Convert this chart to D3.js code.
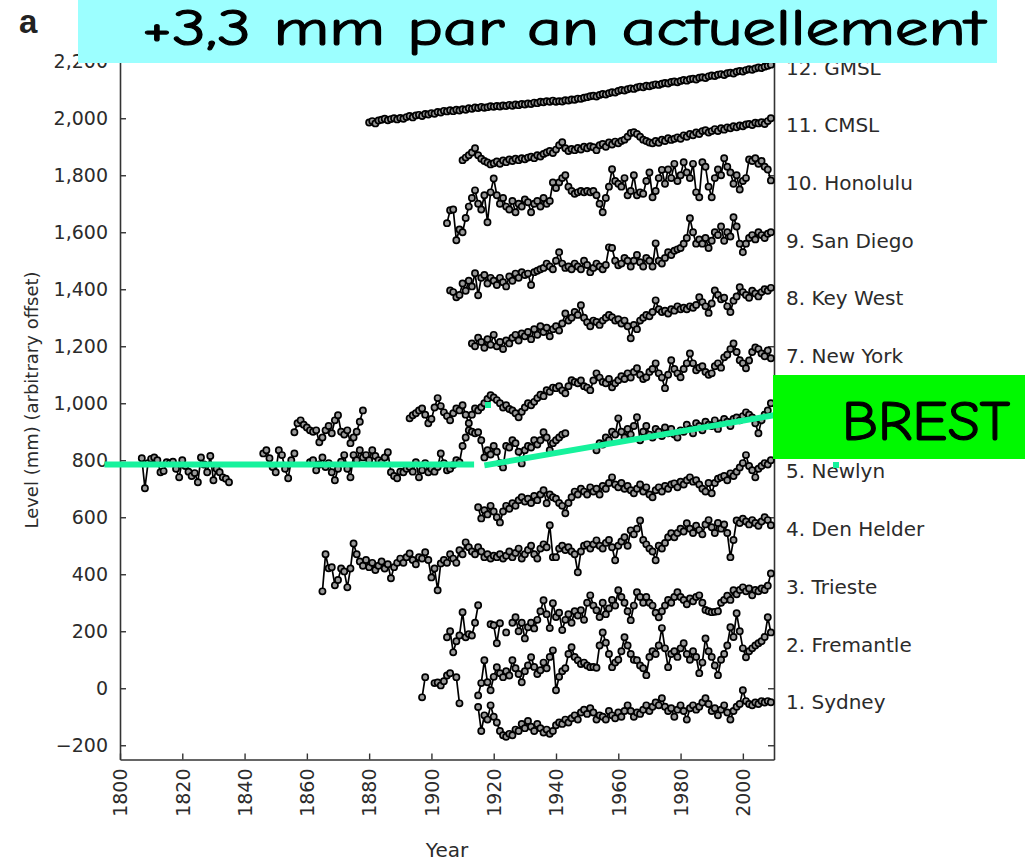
<!DOCTYPE html>
<html>
<head>
<meta charset="utf-8">
<script src="https://cdn.jsdelivr.net/npm/d3@7"></script>
<style>
  html, body { margin: 0; padding: 0; background: #fff; }
  svg { display: block; }
</style>
</head>
<body>
<div id="chart"></div>
<script>
// tide gauge records, mm (arbitrary offset), one value per year, null = gap
const sydney = [
  -66,-150,-95,-110,-60,-100,-120,-150,-165,-170,
  -160,-165,-145,-150,-125,-140,-115,-135,-150,-125,
  -140,-155,-145,-160,-150,-130,-120,-125,-110,-120,
  -105,-95,-110,-85,-75,-90,-70,-85,-110,-95,
  -100,-110,-80,-95,-105,-85,-100,-80,-60,-80,
  -100,-85,-90,-75,-60,-80,-65,-50,-60,-35,
  -65,-80,-70,-100,-75,-60,-80,-110,-70,-60,
  -75,-65,-50,-35,-55,-80,-70,-95,-75,-60,
  -85,-110,-80,-65,-55,-7,-45,-55,-60,-50,
  -55,-45,-50,-45,-49
];
const fremantle = [
  -32,39,null,null,18,20,10,25,45,53,
  null,39,-53,null,null,null,null,null,-25,18,
  98,21,-7,40,74,53,39,60,45,98,
  70,50,21,60,80,109,75,50,63,90,
  70,110,133,-7,40,60,70,120,144,110,
  98,85,90,80,74,75,72,150,196,160,
  120,74,90,100,130,179,150,120,100,98,
  80,70,46,110,130,120,150,211,140,74,
  120,130,110,140,158,120,100,130,110,53,
  90,175,130,110,80,46,100,120,150,214,
  180,263,200,140,109,130,140,150,158,165,
  180,249,196
];
const trieste = [
  179,200,126,165,185,267,179,190,185,230,
  291,null,null,null,225,221,158,228,null,196,
  null,230,249,200,230,175,214,230,210,240,
  270,309,260,211,298,250,265,204,240,260,
  230,270,255,274,240,300,326,290,274,250,
  300,260,280,310,290,344,320,300,270,239,
  290,337,320,300,320,300,290,265,249,270,
  290,310,300,320,337,320,310,295,315,305,
  320,326,300,275,270,267,268,270,300,310,
  325,310,344,330,345,354,340,350,326,345,
  340,350,345,360,403
];
const denHelder = [
  340,470,421,425,361,380,420,410,354,420,
  508,470,445,430,450,425,440,415,430,445,
  420,435,386,425,440,455,440,460,473,450,
  435,460,455,477,450,389,420,344,438,450,
  440,470,455,440,484,470,512,495,480,470,
  495,480,460,470,455,465,460,470,455,465,
  480,460,475,490,455,470,485,500,470,455,
  490,505,495,572,460,460,490,500,485,495,
  480,470,407,480,500,505,490,505,519,500,
  490,510,520,495,449,500,515,530,500,554,
  540,560,589,520,505,490,480,449,500,490,
  510,530,544,530,545,560,550,579,560,545,
  570,555,540,575,590,565,545,580,560,575,
  545,460,520,589,580,595,585,575,590,580,
  570,585,600,590,572
];
const newlyn = [
  635,596,625,610,640,620,600,582,620,640,
  630,649,640,660,670,655,665,650,675,660,
  680,695,649,680,670,665,650,640,614,650,
  670,690,680,700,690,680,705,690,700,680,
  710,700,720,740,715,705,720,700,710,695,
  684,700,715,690,705,680,670,695,705,690,
  710,700,715,719,705,725,715,730,740,725,
  730,715,700,690,720,684,720,735,740,745,
  730,754,745,760,775,790,818,780,765,740,
  770,780,790,785,800
];
const brest = [
  807,702,790,805,810,800,758,762,793,790,
  795,770,740,800,780,760,745,755,723,810,
  785,758,815,730,770,758,740,735,723,null,
  null,null,null,null,null,null,null,null,null,824,
  835,807,776,758,835,818,770,737,800,824,
  null,null,null,null,793,800,765,785,810,776,
  790,758,730,770,795,818,770,740,818,800,
  835,810,818,800,835,815,800,793,810,828,
  758,745,737,760,758,770,776,760,793,740,
  765,790,758,770,760,776,824,790,765,770,
  783,800,793,850,880,905,900,895,898,870,
  810,835,820,850,830,790,775,850,845,870,
  860,830,789,835,850,845,870,855,870,898,
  880,835,860,870,880,890,895,null,null,null,
  null,null,null,null,null,null,835,860,855,880,
  870,900,890,947,900,880,910,890,920,951,
  870,900,920,890,880,910,900,885,915,895,
  910,890,880,905,900,925,910,895,930,920,
  905,935,925,920,940,910,930,945,935,920,
  945,950,940,955,968,960,950,930,895,940,
  960,975,1000
];
const newYork = [
  898,930,940,925,915,905,900,905,863,880,
  905,920,895,940,958,900,890,905,860,880,
  900,935,975,null,null,null,null,null,null,null,
  null,null,null,null,null,null,null,947,958,965,
  975,982,960,930,945,985,1018,990,968,955,
  940,965,982,975,993,960,930,960,982,975,
  986,1000,1015,1028,1020,1011,1000,985,993,980,
  975,965,951,970,985,1000,993,1005,1018,1030,
  1025,1046,1040,1055,1053,1060,1045,1035,1060,1081,
  1075,1070,1080,1060,1055,1046,1080,1105,1090,1075,
  1070,1085,1056,1070,1081,1095,1085,1105,1090,1110,
  1123,1100,1085,1091,1110,1120,1140,1105,1090,1053,
  1100,1151,1120,1105,1091,1120,1140,1175,1140,1116,
  1125,1130,1110,1100,1105,1130,1140,1125,1161,1170,
  1190,1210,1180,1151,1140,1123,1150,1180,1196,1190,
  1175,1165,1185,1158
];
const keyWest = [
  1210,1200,1230,1215,1195,1225,1205,1240,1200,1215,
  1190,1220,1210,1230,1240,1220,1245,1235,1250,1225,
  1260,1240,1270,1250,1265,1235,1260,1270,1255,1280,
  1315,1290,1300,1320,1310,1344,1300,1284,1270,1290,
  1285,1275,1290,1300,1310,1302,1290,1295,1280,1290,
  1270,1228,1275,1260,1290,1300,1310,1305,1320,1361,
  1330,1320,1325,1315,1330,1325,1340,1330,1335,1330,
  1340,1335,1345,1372,1355,1340,1317,1350,1396,1380,
  1365,1370,1340,1320,1360,1375,1407,1390,1380,1370,
  1395,1385,1375,1390,1400,1395,1405
];
const sanDiego = [
  1396,1390,1372,1380,1420,1395,1430,1410,1456,1379,
  1440,1450,1420,1440,1430,1415,1440,1425,1410,1445,
  1430,1455,1440,1460,1450,1455,1415,1460,1465,1470,
  1475,1490,1480,1470,1500,1530,1490,1475,1480,1470,
  1490,1480,1470,1500,1485,1460,1475,1490,1480,1470,
  1485,1547,1545,1500,1484,1490,1510,1500,1480,1500,
  1520,1495,1480,1510,1500,1480,1561,1500,1490,1510,
  1530,1520,1535,1540,1545,1560,1580,1649,1600,1560,
  1575,1560,1580,1545,1570,1600,1590,1620,1570,1600,
  1585,1653,1620,1560,1530,1560,1580,1590,1575,1600,
  1590,1580,1595,1600
];
const honolulu = [
  1632,1677,1680,1572,1610,1600,1650,1690,1720,1747,
  1700,1680,1730,1635,1740,1789,1730,1700,1720,1690,
  1680,1710,1670,1700,1690,1715,1705,1670,1700,1710,
  1690,1720,1700,1710,1775,1755,1775,1790,1800,1760,
  1745,1735,1740,1745,1740,1745,1740,1745,1730,1700,
  1670,1720,1760,1821,1780,1770,1760,1790,1730,1745,
  1800,1730,1740,1735,1780,1810,1723,1745,1790,1819,
  1770,1820,1790,1840,1780,1800,1846,1810,1790,1840,
  1740,1723,1846,1830,1760,1723,1790,1820,1800,1860,
  1830,1810,1770,1800,1750,1780,1790,1855,1850,1860,
  1840,1850,1830,1820,1782
];
const cmsl = [
  1853,1862,1870,1880,1895,1870,1858,1850,1845,1838,
  1842,1848,1840,1852,1846,1855,1850,1858,1853,1860,
  1856,1862,1865,1860,1870,1866,1875,1880,1885,1878,
  1890,1905,1916,1895,1885,1892,1888,1896,1890,1900,
  1895,1902,1898,1888,1905,1910,1900,1915,1908,1918,
  1912,1920,1925,1935,1948,1951,1945,1935,1925,1920,
  1915,1912,1920,1914,1925,1920,1930,1924,1928,1933,
  1928,1940,1935,1945,1940,1950,1945,1955,1958,1950,
  1955,1962,1955,1965,1960,1968,1965,1972,1968,1975,
  1972,1978,1980,1976,1984,1982,1986,1980,1990,2000
];
const gmsl = [
  1985,1990,1982,1992,1995,1998,1993,1997,2000,1996,
  2001,1998,2004,2008,2003,2010,2012,2008,2015,2013,
  2018,2016,2022,2020,2026,2024,2028,2025,2030,2027,
  2032,2030,2035,2033,2038,2036,2040,2037,2039,2042,
  2040,2043,2041,2045,2043,2047,2044,2048,2046,2050,
  2048,2052,2050,2055,2053,2058,2056,2060,2058,2062,
  2058,2060,2059,2063,2062,2066,2065,2069,2068,2072,
  2074,2077,2079,2076,2082,2085,2083,2088,2091,2090,
  2096,2099,2097,2102,2105,2103,2108,2111,2109,2114,
  2112,2116,2119,2117,2121,2124,2122,2127,2129,2126,
  2131,2134,2132,2137,2139,2136,2142,2144,2141,2147,
  2150,2148,2153,2155,2152,2158,2160,2157,2163,2166,
  2164,2169,2172,2170,2175,2178,2176,2181,2184,2188
];

const seriesNames = ["1. Sydney", "2. Fremantle", "3. Trieste", "4. Den Helder", "5. Newlyn", "6. Brest",
  "7. New York", "8. Key West", "9. San Diego", "10. Honolulu", "11. CMSL", "12. GMSL"];
const seriesStart = [1915, 1897, 1905, 1865, 1915, 1807, 1856, 1913, 1906, 1905, 1910, 1880];
const seriesValues = [sydney, fremantle, trieste, denHelder, newlyn, brest, newYork, keyWest, sanDiego, honolulu, cmsl, gmsl];

const yTicks = [-200, 0, 200, 400, 600, 800, 1000, 1200, 1400, 1600, 1800, 2000, 2200];
const xTicks = [1800, 1820, 1840, 1860, 1880, 1900, 1920, 1940, 1960, 1980, 2000];

// hand-drawn Brest trend overlay: [year0, level0, year1, level1]
const brestTrend = [[1795, 785, 1913.7, 785], [1917, 782, 2010, 958]];

const width = 1025, height = 863;
const x = d3.scaleLinear().domain([1800, 2010]).range([120, 774]);
const y = d3.scaleLinear().domain([-250, 2250]).range([759.5, 47]);

const svg = d3.select("#chart").append("svg")
    .attr("width", width)
    .attr("height", height);

const tickFont = "'DejaVu Sans', 'Liberation Sans', Arial, sans-serif";
const ink = "#2b2b2b";

// axes
const gy = svg.append("g")
    .attr("transform", `translate(${x(1800)},0)`)
    .call(d3.axisLeft(y).tickValues(yTicks).tickSizeInner(-6).tickSizeOuter(0)
        .tickPadding(12).tickFormat(d3.format(",")));

const gr = svg.append("g")
    .attr("transform", `translate(${x(2010)},0)`)
    .call(d3.axisRight(y).tickValues(yTicks).tickSizeInner(-6).tickSizeOuter(0).tickFormat(""));

const gx = svg.append("g")
    .attr("transform", `translate(0,${y(-250)})`)
    .call(d3.axisBottom(x).tickValues(xTicks).tickSizeInner(-6).tickSizeOuter(0).tickFormat(d3.format("d")));

gx.selectAll("text")
    .attr("transform", "rotate(-90)")
    .attr("x", -9)
    .attr("y", 0)
    .attr("dy", "0.36em")
    .style("text-anchor", "end");

[gy, gr, gx].forEach(g => {
    g.select(".domain").attr("stroke", "#333").attr("stroke-width", 1.6);
    g.selectAll(".tick line").attr("stroke", "#333").attr("stroke-width", 1.4);
    g.selectAll("text").attr("fill", ink).style("font-family", tickFont).style("font-size", "19px");
});

// axis titles
svg.append("text")
    .attr("x", 447).attr("y", 857)
    .attr("text-anchor", "middle")
    .style("font-family", tickFont).style("font-size", "20px")
    .attr("fill", ink)
    .text("Year");

svg.append("text")
    .attr("transform", "translate(38,400) rotate(-90)")
    .attr("text-anchor", "middle")
    .style("font-family", tickFont).style("font-size", "18px")
    .attr("fill", ink)
    .text("Level (mm) (arbitrary offset)");

svg.append("text")
    .attr("x", 19).attr("y", 33)
    .style("font-family", "'Liberation Sans', Arial, sans-serif")
    .style("font-size", "33px").style("font-weight", "bold")
    .attr("fill", "#222")
    .text("a");

// series
const line = d3.line()
    .defined(d => d.v !== null)
    .x(d => x(d.year))
    .y(d => y(d.v));

const plot = svg.append("g");

seriesValues.forEach((vals, i) => {
    const pts = vals.map((v, j) => ({year: seriesStart[i] + j, v: v}));
    const g = plot.append("g");
    g.append("path")
        .datum(pts)
        .attr("fill", "none")
        .attr("stroke", "#000")
        .attr("stroke-width", 1.7)
        .attr("d", line);
    g.selectAll("circle")
        .data(pts.filter(d => d.v !== null))
        .join("circle")
        .attr("cx", d => x(d.year))
        .attr("cy", d => y(d.v))
        .attr("r", 3.1)
        .attr("fill", "#9a9a9a")
        .attr("stroke", "#000")
        .attr("stroke-width", 1.7);
});

// series labels on the right (label 6 sits under the BREST box in the original)
svg.append("g")
    .selectAll("text")
    .data(seriesNames.map((d, i) => ({name: d, i: i})).filter(d => d.i !== 5))
    .join("text")
    .attr("x", 786)
    .attr("y", d => 702 - d.i * 57.7)
    .attr("dy", "0.36em")
    .style("font-family", tickFont).style("font-size", "20px")
    .attr("fill", ink)
    .text(d => d.name);

// green Brest trend overlay
const mint = "#16f29c";
svg.append("g")
    .selectAll("line")
    .data(brestTrend)
    .join("line")
    .attr("x1", d => x(d[0])).attr("y1", d => y(d[1]))
    .attr("x2", d => x(d[2])).attr("y2", d => y(d[3]))
    .attr("stroke", mint)
    .attr("stroke-width", 6);

svg.append("rect").attr("x", 485).attr("y", 402).attr("width", 6).attr("height", 6).attr("fill", mint);
svg.append("rect").attr("x", 833).attr("y", 462).attr("width", 6).attr("height", 6).attr("fill", mint);

// annotation boxes
const handFont = "'Comic Sans MS', 'Comic Neue', 'DejaVu Sans', sans-serif";

svg.append("rect")
    .attr("x", 78).attr("y", 0).attr("width", 919).attr("height", 63)
    .attr("fill", "#9cffff");
svg.append("text")
    .attr("x", 142).attr("y", 45)
    .attr("textLength", 843)
    .attr("lengthAdjust", "spacingAndGlyphs")
    .style("font-family", handFont).style("font-size", "50px")
    .attr("fill", "#000")
    .attr("stroke", "#000").attr("stroke-width", 1.2)
    .text("+3,3 mm par an actuellement");

svg.append("rect")
    .attr("x", 773).attr("y", 375).attr("width", 252).attr("height", 84)
    .attr("fill", "#00f900");
svg.append("text")
    .attr("x", 842).attr("y", 440)
    .attr("textLength", 168)
    .attr("lengthAdjust", "spacingAndGlyphs")
    .style("font-family", handFont).style("font-size", "56px")
    .attr("fill", "#000")
    .attr("stroke", "#000").attr("stroke-width", 1.2)
    .text("BREST");
</script>
</body>
</html>
